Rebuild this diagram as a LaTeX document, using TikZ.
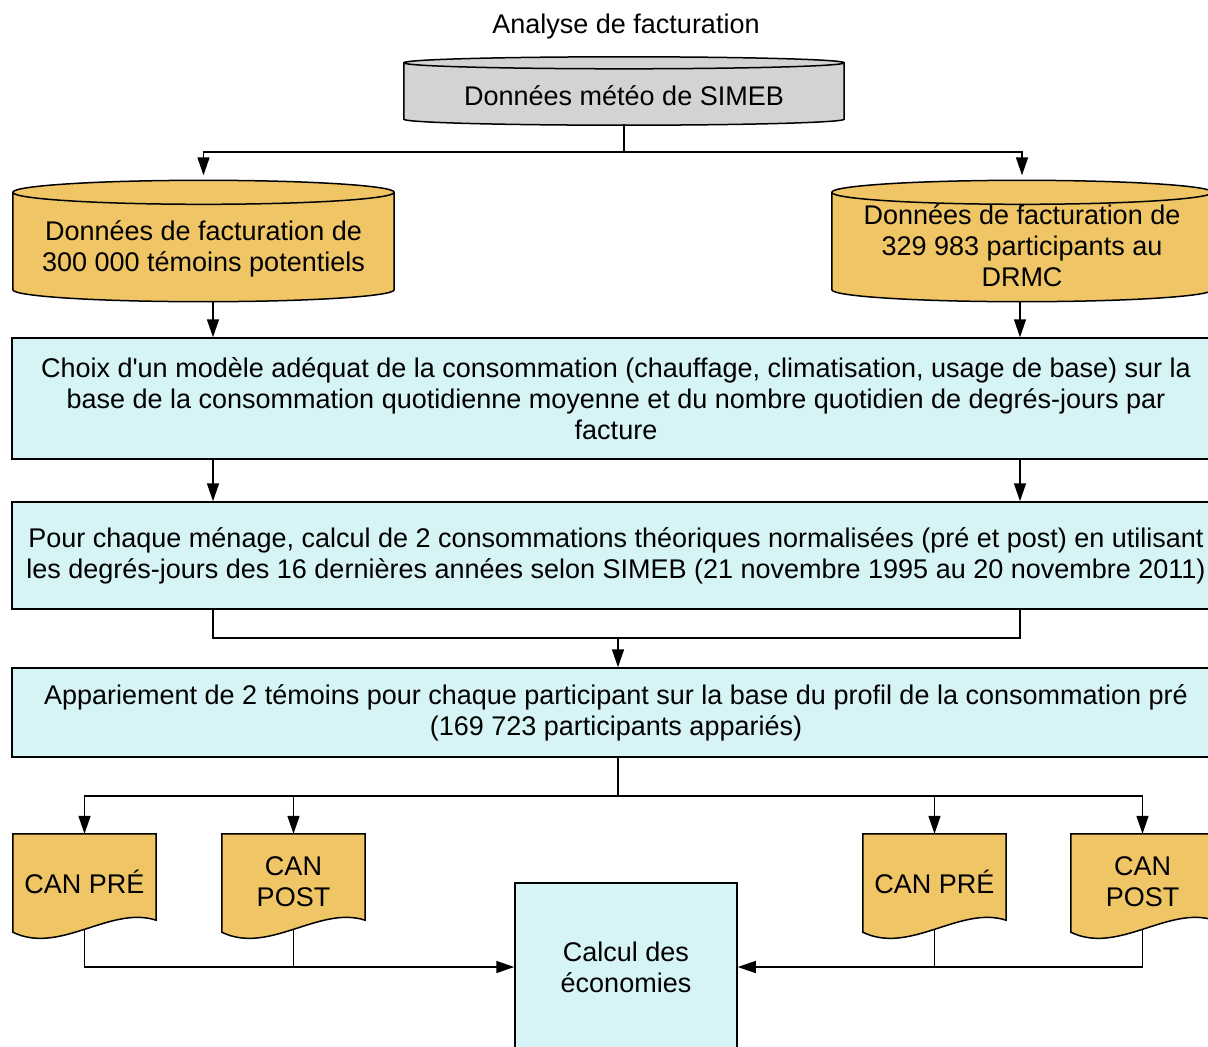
\documentclass[tikz,border=0pt]{standalone}
\usepackage{fontspec}
\setmainfont{Liberation Sans}
\usepackage{tikz}
\usetikzlibrary{calc,backgrounds,arrows.meta}

\definecolor{gris}{RGB}{211,211,213}
\definecolor{jaune}{RGB}{239,197,101}
\definecolor{cyanclair}{RGB}{214,243,245}

\tikzset{
  texte/.style={font=\fontsize{27}{31}\selectfont, align=center, inner sep=0pt},
  boite/.style={texte, draw, line width=1.5pt, fill=cyanclair},
  cuve/.style={texte},
  feuille/.style={texte, minimum width=143pt, minimum height=86pt},
  trait/.style={line width=1.5pt},
  fleche/.style={trait, -{Triangle[length=18pt,width=12pt]}},
}

\begin{document}
\begin{tikzpicture}[x=1pt, y=-1pt]
        \useasboundingbox (0,0) rectangle (1208,1047);
        \coordinate (colg) at (213,0);
        \coordinate (cold) at (1020,0);
        \coordinate (jm) at (624,152);
        \coordinate (jn) at (618,638);
        \coordinate (jp) at (618,796);
        \node[texte] (titre) at (626,27) {Analyse de facturation};
        \node[cuve, minimum width=440pt, minimum height=56pt] (meteo) at (624,96) {Données météo de SIMEB};
        \node[cuve, minimum width=381pt, minimum height=97pt] (temoins) at (203.5,249) {Données de facturation de\\300 000 témoins potentiels};
        \node[cuve, minimum width=380pt, minimum height=97pt] (drmc) at (1022,246) {Données de facturation de\\329 983 participants au\\DRMC};
        \node[boite, minimum width=1208pt, minimum height=121pt] (choix) at (616,398.5) {Choix d\textquotesingle un modèle adéquat de la consommation (chauffage, climatisation, usage de base) sur la\\base de la consommation quotidienne moyenne et du nombre quotidien de degrés-jours par\\facture};
        \node[boite, minimum width=1208pt, minimum height=107pt] (normal) at (616,555.5) {Pour chaque ménage, calcul de 2 consommations théoriques normalisées (pré et post) en utilisant\\les degrés-jours des 16 dernières années selon SIMEB (21 novembre 1995 au 20 novembre 2011)};
        \node[boite, minimum width=1208pt, minimum height=89pt] (apparie) at (616,712.5) {Appariement de 2 témoins pour chaque participant sur la base du profil de la consommation pré\\(169 723 participants appariés)};
        \node[feuille] (can1) at (84.5,882) {CAN PRÉ};
        \node[feuille] (can2) at (293.5,882) {CAN\\POST};
        \node[feuille] (can3) at (934.5,882) {CAN PRÉ};
        \node[feuille] (can4) at (1142.5,882) {CAN\\POST};
        \node[boite, minimum width=222pt, minimum height=168pt] (economies) at (626,967) {Calcul des\\économies};
        % cuves et feuilles derriere le texte
        \begin{scope}[on background layer]
          \foreach \nm/\couleur/\ry/\dec in {meteo/gris/6/5, temoins/jaune/12/8, drmc/jaune/12/5}{
            \draw[trait, fill=\couleur] let \p1=([yshift=\dec pt]\nm.north west), \p2=([yshift=\dec pt]\nm.south east), \n1={(\x2-\x1)/2} in
              (\p1) -- (\x1,\y2) arc[start angle=180, end angle=360, x radius=\n1, y radius=\ry pt]
              -- (\x2,\y1) arc[start angle=0, end angle=180, x radius=\n1, y radius=\ry pt] -- cycle
              (\p1) arc[start angle=180, end angle=360, x radius=\n1, y radius=\ry pt];
          }
          \foreach \nm in {can1,can2,can3,can4}{
            \draw[trait, fill=jaune] let \p1=([yshift=5pt]\nm.north west), \p2=([yshift=5pt]\nm.south east) in
              (\p1) -- (\x2,\y1) -- (\p2) .. controls ($(\p2)+(-46,-15)$) and ($(\x1,\y2)+(47,35)$) .. ($(\x1,\y2)+(0,12)$) -- cycle;
          }
        \end{scope}
        \draw[trait] (meteo.south) -- (jm);
        \draw[fleche] (jm) -| ($(temoins.north)+(0,-25)$);
        \draw[fleche] (jm) -| ($(drmc.north)+(0,-22)$);
        \draw[fleche] ($(temoins.south -| colg)+(0,4)$) -- (choix.north -| colg);
        \draw[fleche] ($(drmc.south -| cold)+(0,7)$) -- (choix.north -| cold);
        \draw[fleche] (choix.south -| colg) -- (normal.north -| colg);
        \draw[fleche] (choix.south -| cold) -- (normal.north -| cold);
        \draw[trait] (normal.south -| colg) |- (jn) -| (normal.south -| cold);
        \draw[fleche] (jn) -- (jn |- apparie.north);
        \draw[trait] (jp |- apparie.south) -- (jp);
        \foreach \nm in {can1,can2,can3,can4}
          \draw[fleche] (jp) -| ([yshift=5pt]\nm.north);
        \draw[fleche] ([yshift=-4pt]can1.south) |- (economies.west);
        \draw[trait] ([yshift=-4pt]can2.south) -- (can2.south |- economies.west);
        \draw[fleche] ([yshift=-4pt]can4.south) |- (economies.east);
        \draw[trait] ([yshift=-4pt]can3.south) -- (can3.south |- economies.east);
\end{tikzpicture}
\end{document}
